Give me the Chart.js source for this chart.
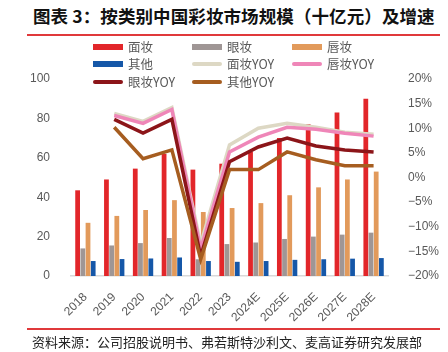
<!DOCTYPE html>
<html>
<head>
<meta charset="utf-8">
<script src="https://cdn.jsdelivr.net/npm/chart.js@4.4.1/dist/chart.umd.min.js"></script>
<style>
  html, body { margin: 0; padding: 0; background: #fff; }
  #wrap { position: relative; width: 448px; height: 352px; overflow: hidden; font-family: "Noto Sans CJK SC", sans-serif; }
  #chart { position: absolute; left: 0; top: 0; }
  #title { position: absolute; left: 33px; top: 3px; font-size: 17.5px; font-weight: bold; color: #111; white-space: nowrap; letter-spacing: 0.1px; }
  .rule { position: absolute; left: 27px; width: 413px; height: 2px; background: #e0393b; }
  #source { position: absolute; left: 32px; top: 332px; font-size: 13px; color: #222; white-space: nowrap; }
  .lg { position: absolute; font-size: 12.5px; color: #595959; white-space: nowrap; line-height: 16px; }
  .sw { position: absolute; width: 30px; }
</style>
</head>
<body>
<div id="wrap">
  <div id="title">图表 3：按类别中国彩妆市场规模（十亿元）及增速</div>
  <div class="rule" style="top:34px"></div>
  <canvas id="chart" width="448" height="352"></canvas>
  <div id="legend"></div>
  <div class="rule" style="top:328px"></div>
  <div id="source">资料来源：公司招股说明书、弗若斯特沙利文、麦高证券研究发展部</div>
</div>
<script>
// Categories
const years = ["2018", "2019", "2020", "2021", "2022", "2023", "2024E", "2025E", "2026E", "2027E", "2028E"];

// Market size, 十亿元 (left axis)
const faceSize  = [43.5, 49, 54.5, 62, 54, 57, 63, 70, 77, 83, 90];
const eyeSize   = [14, 15.5, 16.7, 19.3, 8.5, 16.2, 17, 18.8, 20, 21, 22];
const lipSize   = [27, 30.5, 33.5, 38.5, 32.5, 34.5, 37, 41, 45, 49, 53];
const otherSize = [7.6, 8.6, 8.9, 9.4, 7.6, 7.2, 7.6, 8.2, 8.5, 8.8, 9.1];

// Growth, % (right axis)
const faceYoy  = [null, 13, 11.4, 14.2, -13.5, 6.6, 10, 11, 10.2, 9.2, 8.8];
const lipYoy   = [null, 12.6, 11, 13.8, -14.5, 5.2, 8.2, 10.2, 9.8, 9, 8.4];
const eyeYoy   = [null, 11.8, 9, 11.8, -16, 3.2, 6.2, 8, 6.4, 5.6, 5.2];
const otherYoy = [null, 10.2, 3.8, 5.6, -16.6, 1.6, 1.6, 5.2, 3.6, 2.4, 2.4];

// Axis ticks
const leftTicks = [0, 20, 40, 60, 80, 100];
const rightTicks = [-20, -15, -10, -5, 0, 5, 10, 15, 20];

const tickColor = "#595959";
const tickFont = { family: "'Liberation Sans', Arial, sans-serif", size: 12 };

const barSets = [
  { label: "面妆", data: faceSize, color: "#e2262a" },
  { label: "眼妆", data: eyeSize, color: "#9f9695" },
  { label: "唇妆", data: lipSize, color: "#e29a5b" },
  { label: "其他", data: otherSize, color: "#1557a8" }
];
const lineSets = [
  { label: "面妆YOY", data: faceYoy, color: "#ddd8c4" },
  { label: "唇妆YOY", data: lipYoy, color: "#ef86b8" },
  { label: "眼妆YOY", data: eyeYoy, color: "#8c1519" },
  { label: "其他YOY", data: otherYoy, color: "#a65d20" }
];

const datasets = [];
barSets.forEach(s => datasets.push({
  type: "bar", label: s.label, data: s.data, backgroundColor: s.color,
  yAxisID: "y", order: 2, categoryPercentage: 0.72, barPercentage: 0.92
}));
lineSets.forEach((s, i) => datasets.push({
  type: "line", label: s.label, data: s.data, borderColor: s.color,
  borderWidth: 3.5, pointRadius: 0, tension: 0, yAxisID: "y1", order: 1 - i * 0.1,
  borderJoinStyle: "miter"
}));

new Chart(document.getElementById("chart"), {
  data: { labels: years, datasets: datasets },
  options: {
    responsive: false,
    animation: false,
    layout: { padding: { top: 79, left: 0, right: 0, bottom: 0 } },
    plugins: { legend: { display: false }, tooltip: { enabled: false } },
    scales: {
      x: {
        offset: true,
        grid: { display: false },
        border: { display: true, color: "#d9d9d9", width: 1.5 },
        ticks: { color: tickColor, font: tickFont, minRotation: 45, maxRotation: 45, padding: 6 },
        afterFit: s => { s.height = 76; }
      },
      y: {
        position: "left", min: 0, max: 100,
        grid: { display: false }, border: { display: false },
        afterBuildTicks: s => { s.ticks = leftTicks.map(v => ({ value: v })); },
        ticks: { color: tickColor, font: tickFont, padding: 13 },
        afterFit: s => { s.width = 71; }
      },
      y1: {
        position: "right", min: -20, max: 20,
        grid: { display: false }, border: { display: false },
        afterBuildTicks: s => { s.ticks = rightTicks.map(v => ({ value: v })); },
        ticks: {
          color: tickColor, font: tickFont, padding: 12,
          callback: v => (v < 0 ? "\u2212" + Math.abs(v) : v) + "%"
        },
        afterFit: s => { s.width = 60; }
      }
    }
  }
});

// Legend, three columns
const legendItems = [
  { label: "面妆", color: "#e2262a", bar: true },
  { label: "眼妆", color: "#9f9695", bar: true },
  { label: "唇妆", color: "#e29a5b", bar: true },
  { label: "其他", color: "#1557a8", bar: true },
  { label: "面妆YOY", color: "#ddd8c4", bar: false },
  { label: "唇妆YOY", color: "#ef86b8", bar: false },
  { label: "眼妆YOY", color: "#8c1519", bar: false },
  { label: "其他YOY", color: "#a65d20", bar: false }
];
const colX = [93, 192, 292];
const rowY = [47, 64, 82];
const lg = document.getElementById("legend");
legendItems.forEach((it, i) => {
  const cx = colX[i % 3], cy = rowY[Math.floor(i / 3)];
  const sw = document.createElement("div");
  sw.className = "sw";
  const h = it.bar ? 6 : 3.5;
  sw.style.cssText = `left:${cx}px;top:${cy - h / 2}px;height:${h}px;background:${it.color};` + (it.bar ? "" : "border-radius:2px;");
  lg.appendChild(sw);
  const t = document.createElement("div");
  t.className = "lg";
  t.style.left = (cx + 35) + "px";
  t.style.top = (cy - 8) + "px";
  t.textContent = it.label;
  lg.appendChild(t);
});
</script>
</body>
</html>
